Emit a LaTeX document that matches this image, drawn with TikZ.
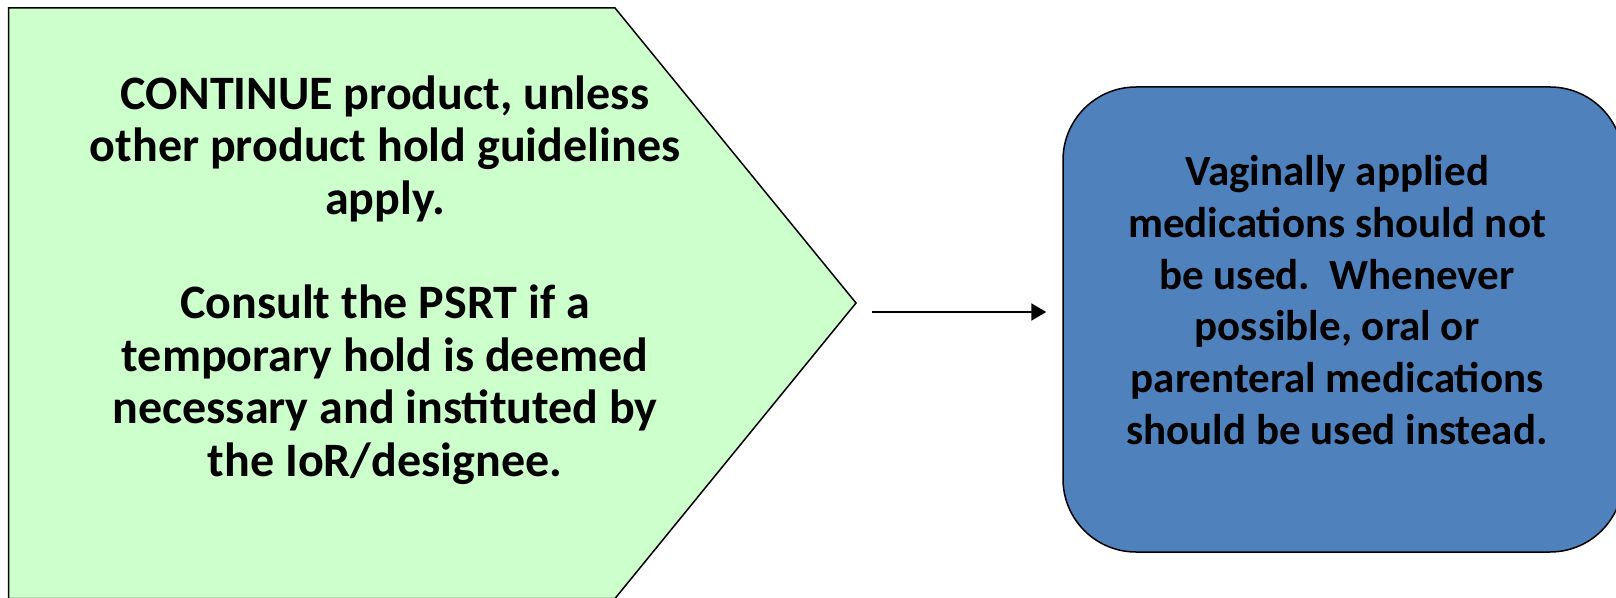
\documentclass[tikz,border=0pt]{standalone}
\usepackage{fontspec}
\setmainfont{Carlito}
\usetikzlibrary{arrows.meta}
\definecolor{paleGreen}{HTML}{CCFFCC}
\definecolor{steelBlue}{HTML}{4F81BD}
\tikzset{
  bodytext/.style={font=\bfseries, align=center, text=black, inner sep=0pt},
  outline/.style={draw=black, line width=1.5pt},
  flowarrow/.style={draw=black, line width=2pt, -{Triangle[length=15pt,width=17pt]}}
}
\begin{document}
\begin{tikzpicture}[x=1pt,y=1pt]
  \clip (0,0) rectangle (1616,597);
  % green pentagon (arrow-like shape pointing right)
  \path[outline, fill=paleGreen] (8.5,589) -- (615,589) -- (856,294) -- (615,-1.5) -- (8.5,-1.5) -- cycle;
  \node[bodytext, font=\bfseries\fontsize{48}{52.4}\selectfont] (lefttext) at (385,317) {CONTINUE product, unless\\other product hold guidelines\\apply.\\\mbox{}\\Consult the PSRT if a\\temporary hold is deemed\\necessary and instituted by\\the IoR/designee.};
  % blue rounded box
  \node[outline, fill=steelBlue, rounded corners=73pt, minimum width=560pt, minimum height=465pt, inner sep=0pt] (box) at (1343,277.5) {};
  \node[bodytext, font=\bfseries\fontsize{43}{51.8}\selectfont] (righttext) at (1337,297) {Vaginally applied\\medications should not\\be used.\ \ Whenever\\possible, oral or\\parenteral medications\\should be used instead.};
  \coordinate (start) at (872,285);
  \draw[flowarrow, shorten >=16pt] (start) -- (start -| box.west);
\end{tikzpicture}
\end{document}
